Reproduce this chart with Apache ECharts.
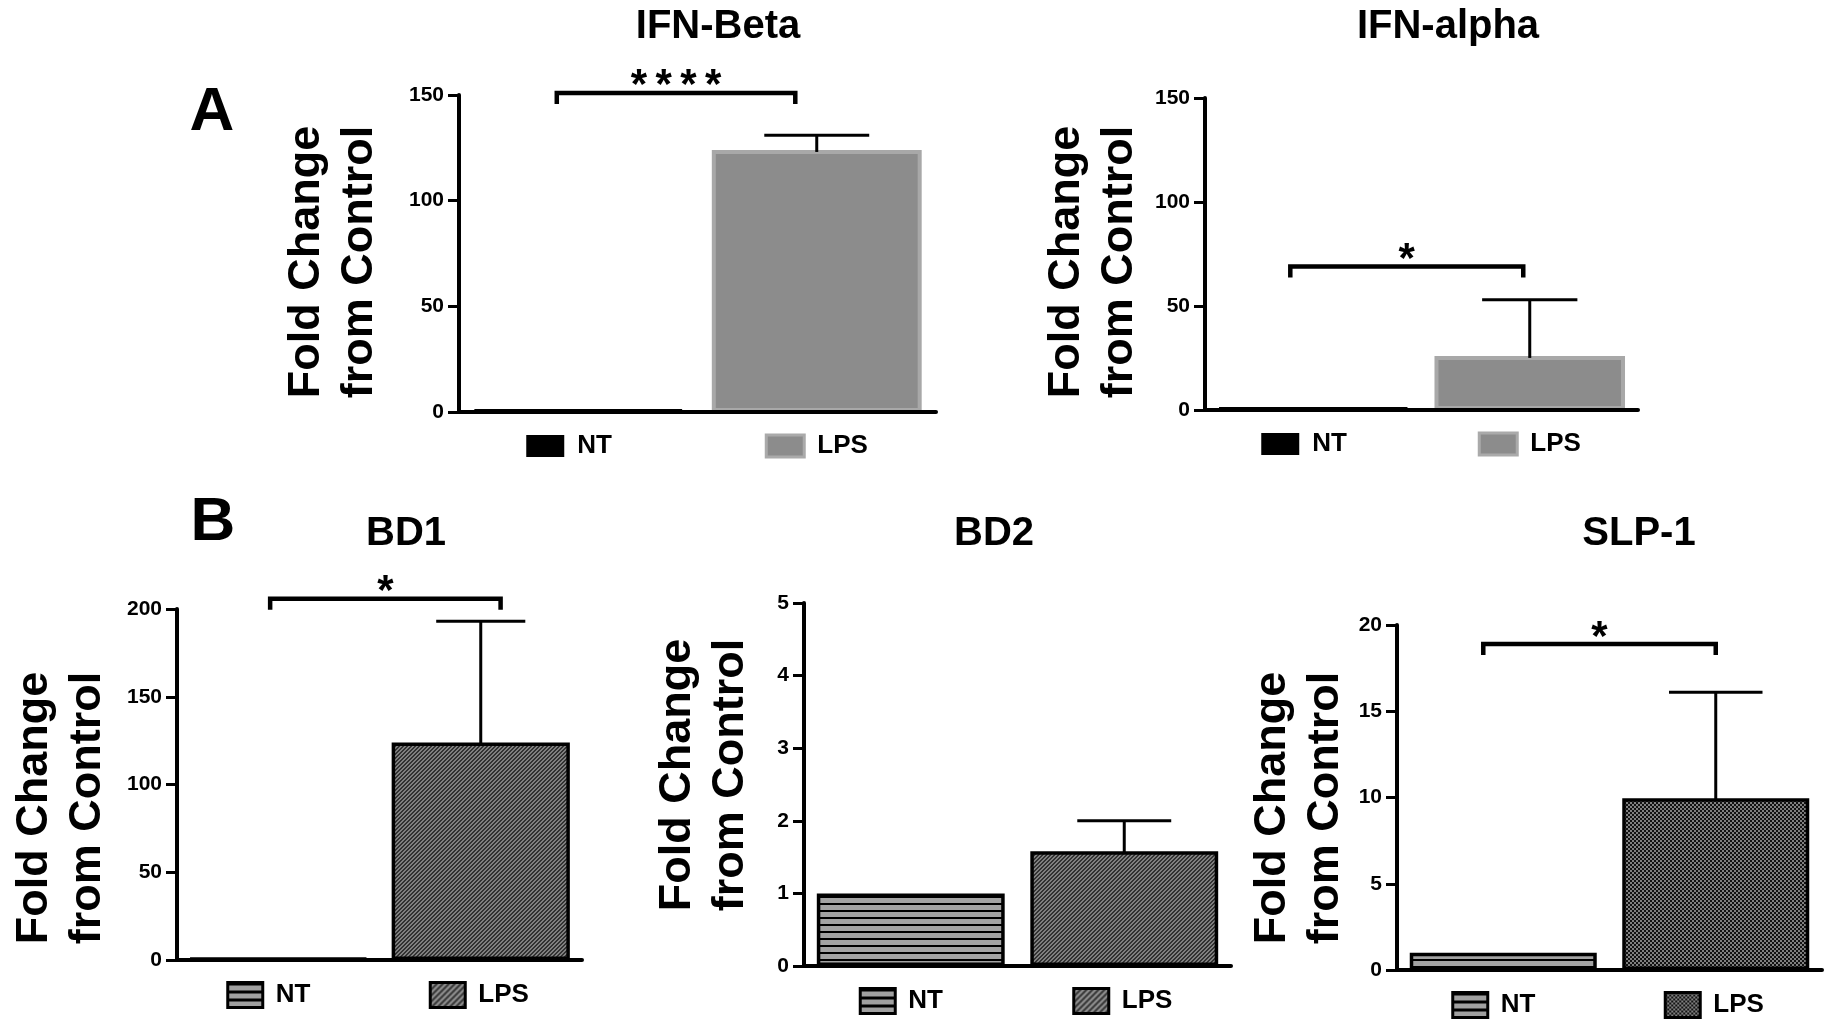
<!DOCTYPE html>
<html>
<head>
<meta charset="utf-8">
<script src="https://cdn.jsdelivr.net/npm/echarts@6/dist/echarts.min.js"></script>
<style>
html,body{margin:0;padding:0;background:#fff;}
#chart{width:1834px;height:1021px;}
</style>
</head>
<body>
<div id="chart"></div>
<script>
// ---------------- data ----------------
const categories = ['NT', 'LPS'];
const panelTitles = ['IFN-Beta', 'IFN-alpha', 'BD1', 'BD2', 'SLP-1'];
const ntValues = [1, 1, 1, 1, 1];
const lpsValues = [124, 26, 124, 1.58, 9.95];
const lpsErrorTop = [131, 53, 193, 2.0, 16.1];
const axisMax = [150, 150, 200, 5, 20];
const axisInterval = [50, 50, 50, 1, 5];
const sigBracketY = [151, 69, 205.8, null, 18.9];
const sigLabels = ['****', '*', '*', '', '*'];
const yAxisTitle = 'Fold Change\nfrom Control';
const panelLetters = ['A', 'B'];

// ---------------- layout ----------------
const grids = [
  {left: 459, top: 95, width: 477, height: 317},
  {left: 1205, top: 98, width: 433, height: 312},
  {left: 177, top: 609, width: 405, height: 351},
  {left: 804, top: 603, width: 427, height: 363},
  {left: 1397, top: 625, width: 425, height: 345}
];
const titlePos = [[718, 27], [1448, 27], [406, 534], [994, 534], [1639, 534]];
const yTitlePos = [[333, 262], [1093, 262], [61, 808], [704, 775], [1299, 808]];
const letterPos = [[212, 113], [213, 523]];
// bracket end shifts, in fractions of a category band, relative to the NT / LPS centres
const bracketShift = [[-0.09, -0.09], [-0.106, -0.03], [-0.04, 0.098], null, [-0.094, 0]];
const legendBox = [[38, 22], [38, 22], [35, 25], [35, 25], [35, 25]];

const FONT = '"Liberation Sans", Arial, Helvetica, sans-serif';

// ---------------- fill patterns ----------------
function makePattern(w, h, fn) {
  const c = document.createElement('canvas');
  c.width = w; c.height = h;
  const ctx = c.getContext('2d');
  const img = ctx.createImageData(w, h);
  for (let y = 0; y < h; y++) {
    for (let x = 0; x < w; x++) {
      const col = fn(x, y);
      const k = (y * w + x) * 4;
      img.data[k] = col[0]; img.data[k + 1] = col[1]; img.data[k + 2] = col[2]; img.data[k + 3] = 255;
    }
  }
  ctx.putImageData(img, 0, 0);
  return {image: c, repeat: 'repeat'};
}
const BLACK = [0, 0, 0];
const hStripe = makePattern(1, 7, (x, y) => (y < 2 ? BLACK : [163, 163, 163]));
const diagStripe = makePattern(4, 4, (x, y) => (((x + y) % 4) < 2 ? [50, 50, 50] : [128, 128, 128]));
const checker = makePattern(4, 4, (x, y) => ((((x >> 1) + (y >> 1)) % 2) ? [18, 18, 18] : [128, 128, 128]));
const hStripeLegend = makePattern(1, 8, (x, y) => (y < 3 ? BLACK : [160, 160, 160]));
const diagLegend = makePattern(6, 6, (x, y) => (((x + y) % 6) < 3 ? [60, 60, 60] : [140, 140, 140]));

const ntStyles = [
  {color: '#000', borderColor: '#000', borderWidth: 4},
  {color: '#000', borderColor: '#000', borderWidth: 4},
  {color: hStripe, borderColor: '#000', borderWidth: 3.5},
  {color: hStripe, borderColor: '#000', borderWidth: 3.5},
  {color: hStripe, borderColor: '#000', borderWidth: 3.5}
];
const lpsStyles = [
  {color: '#8c8c8c', borderColor: '#a8a8a8', borderWidth: 4},
  {color: '#8c8c8c', borderColor: '#a8a8a8', borderWidth: 4},
  {color: diagStripe, borderColor: '#000', borderWidth: 3.5},
  {color: diagStripe, borderColor: '#000', borderWidth: 3.5},
  {color: checker, borderColor: '#000', borderWidth: 3.5}
];
const ntLegendStyles = [
  {color: '#000', borderWidth: 0},
  {color: '#000', borderWidth: 0},
  {color: hStripeLegend, borderColor: '#000', borderWidth: 3},
  {color: hStripeLegend, borderColor: '#000', borderWidth: 3},
  {color: hStripeLegend, borderColor: '#000', borderWidth: 3}
];
const lpsLegendStyles = [
  {color: '#8c8c8c', borderColor: '#aaaaaa', borderWidth: 3},
  {color: '#8c8c8c', borderColor: '#aaaaaa', borderWidth: 3},
  {color: diagLegend, borderColor: '#000', borderWidth: 3},
  {color: diagLegend, borderColor: '#000', borderWidth: 3},
  {color: checker, borderColor: '#000', borderWidth: 3}
];

// ---------------- build option ----------------
const option = {
  backgroundColor: '#fff',
  animation: false,
  title: [], grid: [], xAxis: [], yAxis: [], series: [], legend: [], graphic: []
};

panelTitles.forEach((t, i) => {
  const g = grids[i];
  option.title.push({
    text: t, left: titlePos[i][0], top: titlePos[i][1],
    textAlign: 'center', textVerticalAlign: 'middle', padding: 0,
    textStyle: {fontFamily: FONT, fontWeight: 'bold', fontSize: 40, color: '#000'}
  });
  option.grid.push({left: g.left, top: g.top, width: g.width, height: g.height, containLabel: false});
  option.xAxis.push({
    type: 'category', gridIndex: i, data: categories, z: 5,
    axisLine: {lineStyle: {color: '#000', width: 4}},
    axisTick: {alignWithLabel: true, length: 12, lineStyle: {color: '#000', width: 3}},
    axisLabel: {show: false},
    splitLine: {show: false}
  });
  option.yAxis.push({
    type: 'value', gridIndex: i, min: 0, max: axisMax[i], interval: axisInterval[i], z: 5,
    axisLine: {show: true, lineStyle: {color: '#000', width: 4}},
    axisTick: {show: true, length: 11, lineStyle: {color: '#000', width: 3}},
    axisLabel: {fontFamily: FONT, fontWeight: 'bold', fontSize: 21, color: '#000', margin: 15},
    splitLine: {show: false}
  });
  const ntName = 'NT_' + i, lpsName = 'LPS_' + i;
  option.series.push({
    name: ntName, type: 'bar', xAxisIndex: i, yAxisIndex: i,
    data: [ntValues[i], '-'], barGap: '-100%', barCategoryGap: '12%',
    itemStyle: ntStyles[i], silent: true
  });
  option.series.push({
    name: lpsName, type: 'bar', xAxisIndex: i, yAxisIndex: i,
    data: ['-', lpsValues[i]], barGap: '-100%', barCategoryGap: '12%',
    itemStyle: lpsStyles[i], silent: true
  });
  // error bar (upper whisker only)
  option.series.push({
    type: 'custom', xAxisIndex: i, yAxisIndex: i, silent: true, clip: false, z: 4,
    data: [[1, lpsValues[i], lpsErrorTop[i]]],
    encode: {x: 0, y: 2},
    renderItem: (params, api) => {
      const x = api.value(0);
      const base = api.coord([x, api.value(1)]);
      const top = api.coord([x, api.value(2)]);
      const half = api.size([1, 0])[0] * 0.22;
      return {type: 'group', children: [
        {type: 'line', shape: {x1: base[0], y1: base[1] + 2, x2: top[0], y2: top[1]}, style: {stroke: '#000', lineWidth: 3}},
        {type: 'line', shape: {x1: top[0] - half, y1: top[1], x2: top[0] + half, y2: top[1]}, style: {stroke: '#000', lineWidth: 3}}
      ]};
    }
  });
  // significance bracket
  if (sigBracketY[i] !== null) {
    const label = sigLabels[i].split('').join('\u2009');
    const shift = bracketShift[i];
    option.series.push({
      type: 'custom', xAxisIndex: i, yAxisIndex: i, silent: true, clip: false, z: 4,
      data: [[0, 1, sigBracketY[i]]],
      encode: {x: [0, 1], y: 2},
      renderItem: (params, api) => {
        const bw = api.size([1, 0])[0];
        const p0 = api.coord([api.value(0), api.value(2)]);
        const p1 = api.coord([api.value(1), api.value(2)]);
        const xl = p0[0] + shift[0] * bw, xr = p1[0] + shift[1] * bw, y = p0[1];
        return {type: 'group', children: [
          {type: 'polyline', shape: {points: [[xl, y + 11], [xl, y], [xr, y], [xr, y + 11]]},
           style: {stroke: '#000', lineWidth: 4.5, fill: null}},
          {type: 'text', x: (xl + xr) / 2, y: y - 6,
           style: {text: label, fontFamily: FONT, fontWeight: 'bold', fontSize: 42, fill: '#000', align: 'center', verticalAlign: 'middle'}}
        ]};
      }
    });
  }
  // legends: one per bar, placed under its category
  const bandW = g.width / categories.length;
  const box = legendBox[i];
  [[ntName, ntLegendStyles[i]], [lpsName, lpsLegendStyles[i]]].forEach((pair, j) => {
    const cx = g.left + (j + 0.5) * bandW;
    option.legend.push({
      left: cx - 52, top: g.top + g.height + 21, padding: 0,
      itemWidth: box[0], itemHeight: box[1], icon: 'rect', selectedMode: false,
      data: [pair[0]],
      formatter: () => categories[j],
      itemStyle: pair[1],
      textStyle: {fontFamily: FONT, fontWeight: 'bold', fontSize: 26, color: '#000', padding: [0, 0, 0, 8]}
    });
  });
  // y axis title
  option.graphic.push({
    type: 'text', x: yTitlePos[i][0], y: yTitlePos[i][1], rotation: Math.PI / 2, silent: true,
    style: {text: yAxisTitle, fontFamily: FONT, fontWeight: 'bold', fontSize: 45, lineHeight: 53,
            fill: '#000', align: 'center', verticalAlign: 'middle'}
  });
});

panelLetters.forEach((L, k) => {
  option.graphic.push({
    type: 'text', x: letterPos[k][0], y: letterPos[k][1], silent: true,
    style: {text: L, fontFamily: FONT, fontWeight: 'bold', fontSize: 62, fill: '#000', align: 'center', verticalAlign: 'middle'}
  });
});

const chart = echarts.init(document.getElementById('chart'), null, {renderer: 'canvas', width: 1834, height: 1021});
chart.setOption(option);
</script>
</body>
</html>
